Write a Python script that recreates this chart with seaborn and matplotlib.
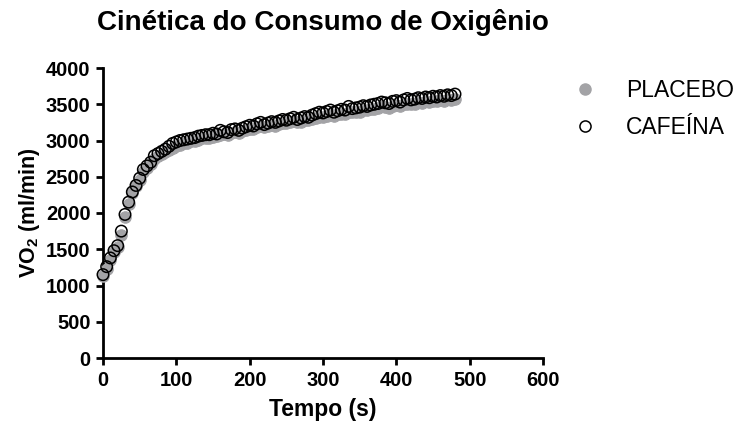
import numpy as np
import pandas as pd
import matplotlib
matplotlib.use("Agg")
import matplotlib.pyplot as plt
from matplotlib.lines import Line2D
import seaborn as sns

# time points (s), one reading every 5 s
tempo = list(range(0, 485, 5))

cafeina = [
    1150, 1260, 1380, 1480, 1550, 1750, 1980, 2150, 2290, 2380,
    2480, 2600, 2650, 2700, 2790, 2820, 2850, 2880, 2920, 2960,
    2980, 3000, 3010, 3020, 3030, 3040, 3060, 3070, 3080, 3080,
    3100, 3090, 3140, 3120, 3110, 3150, 3160, 3140, 3170, 3190,
    3210, 3200, 3230, 3250, 3220, 3240, 3260, 3250, 3270, 3290,
    3280, 3300, 3320, 3290, 3310, 3330, 3320, 3350, 3370, 3390,
    3380, 3400, 3420, 3390, 3410, 3430, 3420, 3470, 3440, 3450,
    3460, 3480, 3470, 3490, 3500, 3510, 3530, 3520, 3510, 3540,
    3550, 3530, 3560, 3580, 3560, 3570, 3590, 3580, 3600, 3590,
    3610, 3600, 3620, 3610, 3630, 3620, 3640,
]

placebo = [
    1130, 1230, 1350, 1460, 1530, 1700, 1950, 2130, 2280, 2370,
    2460, 2560, 2620, 2670, 2740, 2780, 2810, 2840, 2870, 2900,
    2920, 2940, 2960, 2970, 2990, 3000, 3010, 3030, 3030, 3040,
    3050, 3060, 3080, 3090, 3070, 3100, 3120, 3100, 3130, 3140,
    3160, 3160, 3180, 3200, 3180, 3200, 3210, 3200, 3230, 3240,
    3240, 3250, 3270, 3250, 3260, 3280, 3280, 3300, 3310, 3330,
    3330, 3340, 3360, 3340, 3360, 3370, 3370, 3400, 3390, 3400,
    3400, 3420, 3420, 3430, 3440, 3450, 3470, 3460, 3450, 3480,
    3490, 3470, 3500, 3510, 3500, 3510, 3530, 3520, 3540, 3530,
    3550, 3540, 3560, 3550, 3570, 3560, 3570,
]

df = pd.DataFrame({"tempo": tempo, "PLACEBO": placebo, "CAFEÍNA": cafeina})

sns.set_theme(style="ticks")
plt.rcParams["font.family"] = ["Liberation Sans", "DejaVu Sans"]
plt.rcParams["mathtext.fontset"] = "custom"
plt.rcParams["mathtext.rm"] = "Liberation Sans"
plt.rcParams["mathtext.bf"] = "Liberation Sans:bold"
for key in ["text.color", "axes.labelcolor", "xtick.color", "ytick.color"]:
    plt.rcParams[key] = "black"

gray = "#a3a3a6"

fig = plt.figure(figsize=(7.37, 4.28), dpi=100)
ax = fig.add_axes([103 / 737, 70 / 428, 440 / 737, 290 / 428])

sns.scatterplot(data=df, x="tempo", y="PLACEBO", ax=ax, s=68, color=gray,
                edgecolor=gray, linewidth=0.8, clip_on=False, zorder=3)
sns.scatterplot(data=df, x="tempo", y="CAFEÍNA", ax=ax, s=68, facecolor="none",
                edgecolor="black", linewidth=1.1, clip_on=False, zorder=4)

ax.set_xlim(0, 600)
ax.set_ylim(0, 4000)
ax.set_xticks(range(0, 601, 100))
ax.set_yticks(range(0, 4001, 500))
for side in ["top", "right"]:
    ax.spines[side].set_visible(False)
for side in ["left", "bottom"]:
    ax.spines[side].set_linewidth(2)
    ax.spines[side].set_color("black")
ax.tick_params(width=2, length=5, labelsize=14.5, pad=4)
for lab in ax.get_xticklabels() + ax.get_yticklabels():
    lab.set_fontweight("bold")

ax.set_xlabel("Tempo (s)", fontsize=16.5, fontweight="bold", labelpad=6)
ax.set_ylabel(r"VO$_\mathbf{2}$ (ml/min)", fontsize=15.5, fontweight="bold", labelpad=3)
ax.set_title("Cinética do Consumo de Oxigênio", fontsize=20, fontweight="bold", pad=27)

handles = [
    Line2D([], [], ls="none", marker="o", ms=8, color=gray, mec=gray),
    Line2D([], [], ls="none", marker="o", ms=8, mfc="none", mec="black", mew=1.1),
]
fig.legend(handles, ["PLACEBO", "CAFEÍNA"], loc="upper left",
           bbox_to_anchor=(557 / 737, 1 - 70 / 428), frameon=False,
           fontsize=16.5, handletextpad=1.0, labelspacing=0.62, borderaxespad=0,
           handlelength=1.6)

fig.savefig("out.png", dpi=100)
